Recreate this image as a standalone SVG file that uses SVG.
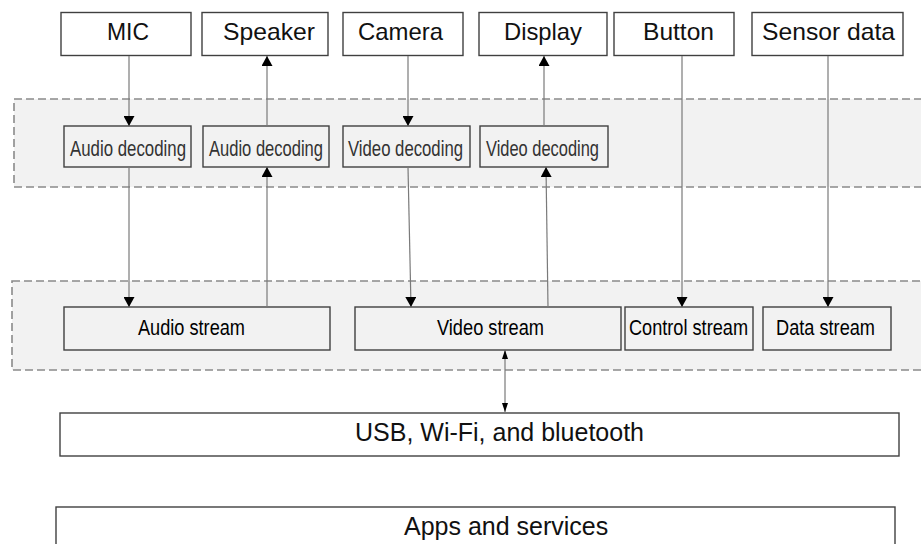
<svg xmlns="http://www.w3.org/2000/svg" width="921" height="544" viewBox="0 0 921 544">
  <style>
    .band { fill: #f2f2f2; stroke: #8a8a8a; stroke-width: 1.6; stroke-dasharray: 8 4; }
    .dev { fill: #ffffff; stroke: #404040; stroke-width: 1.4; }
    .inner { fill: #f2f2f2; stroke: #404040; stroke-width: 1.4; }
    .wide { fill: #ffffff; stroke: #404040; stroke-width: 1.4; }
    .lbl { font-family: "Liberation Sans", Arial, sans-serif; font-size: 24px; fill: #111111; text-anchor: middle; }
    .dec { font-family: "Liberation Sans", Arial, sans-serif; font-size: 22px; fill: #333333; text-anchor: middle; }
    .str { font-family: "Liberation Sans", Arial, sans-serif; font-size: 22.5px; fill: #000000; text-anchor: middle; }
    .big { font-family: "Liberation Sans", Arial, sans-serif; font-size: 25px; fill: #111111; }
    .link { stroke: #7a7a7a; stroke-width: 1.2; fill: none; }
  </style>
  <defs>
    <marker id="head" viewBox="0 0 10 11" refX="10" refY="5.5" markerWidth="10" markerHeight="11" markerUnits="userSpaceOnUse" orient="auto">
      <path d="M0,0 L10,5.5 L0,11 z" fill="#000000"/>
    </marker>
    <marker id="headSmall" viewBox="0 0 9 6" refX="9" refY="3" markerWidth="9" markerHeight="6" markerUnits="userSpaceOnUse" orient="auto-start-reverse">
      <path d="M0,0 L9,3 L0,6 z" fill="#000000"/>
    </marker>
  </defs>

  <!-- layer bands -->
  <g id="codec-layer">
    <rect class="band" x="14" y="99" width="920" height="88"/>
  </g>
  <g id="stream-layer">
    <rect class="band" x="12" y="281" width="920" height="89"/>
  </g>

  <!-- devices -->
  <g id="mic">
    <rect class="dev" x="61" y="12.5" width="130" height="43"/>
    <text class="lbl" x="128" y="40" textLength="42" lengthAdjust="spacingAndGlyphs">MIC</text>
  </g>
  <g id="speaker">
    <rect class="dev" x="202" y="12.5" width="126" height="43"/>
    <text class="lbl" x="269" y="40" textLength="92" lengthAdjust="spacingAndGlyphs">Speaker</text>
  </g>
  <g id="camera">
    <rect class="dev" x="343" y="12.5" width="120" height="43"/>
    <text class="lbl" x="400.5" y="40" textLength="85" lengthAdjust="spacingAndGlyphs">Camera</text>
  </g>
  <g id="display">
    <rect class="dev" x="479" y="12.5" width="128" height="43"/>
    <text class="lbl" x="543" y="40" textLength="78" lengthAdjust="spacingAndGlyphs">Display</text>
  </g>
  <g id="button">
    <rect class="dev" x="614" y="12.5" width="120" height="43"/>
    <text class="lbl" x="678.5" y="40" textLength="71" lengthAdjust="spacingAndGlyphs">Button</text>
  </g>
  <g id="sensor-data">
    <rect class="dev" x="752" y="12.5" width="151" height="43"/>
    <text class="lbl" x="828.5" y="40" textLength="133" lengthAdjust="spacingAndGlyphs">Sensor data</text>
  </g>

  <!-- codecs -->
  <g id="audio-decoding-in">
    <rect class="inner" x="64" y="126" width="127" height="41"/>
    <text class="dec" x="128" y="156" textLength="116" lengthAdjust="spacingAndGlyphs">Audio decoding</text>
  </g>
  <g id="audio-decoding-out">
    <rect class="inner" x="203" y="126" width="126" height="41"/>
    <text class="dec" x="266" y="156" textLength="114" lengthAdjust="spacingAndGlyphs">Audio decoding</text>
  </g>
  <g id="video-decoding-in">
    <rect class="inner" x="343" y="126" width="127" height="41"/>
    <text class="dec" x="405.5" y="156" textLength="115" lengthAdjust="spacingAndGlyphs">Video decoding</text>
  </g>
  <g id="video-decoding-out">
    <rect class="inner" x="480" y="126" width="128" height="41"/>
    <text class="dec" x="542.5" y="156" textLength="113" lengthAdjust="spacingAndGlyphs">Video decoding</text>
  </g>

  <!-- streams -->
  <g id="audio-stream">
    <rect class="inner" x="64" y="307" width="266" height="43"/>
    <text class="str" x="191.5" y="334.5" textLength="107" lengthAdjust="spacingAndGlyphs">Audio stream</text>
  </g>
  <g id="video-stream">
    <rect class="inner" x="355" y="307" width="266" height="43"/>
    <text class="str" x="490.5" y="334.5" textLength="107" lengthAdjust="spacingAndGlyphs">Video stream</text>
  </g>
  <g id="control-stream">
    <rect class="inner" x="625" y="307" width="128" height="43"/>
    <text class="str" x="688.5" y="334.5" textLength="119" lengthAdjust="spacingAndGlyphs">Control stream</text>
  </g>
  <g id="data-stream">
    <rect class="inner" x="763" y="307" width="128" height="43"/>
    <text class="str" x="825.5" y="334.5" textLength="99" lengthAdjust="spacingAndGlyphs">Data stream</text>
  </g>

  <!-- transports and applications -->
  <g id="transport">
    <rect class="wide" x="60" y="413" width="839" height="43"/>
    <text class="big" x="355" y="441">USB, Wi-Fi, and bluetooth</text>
  </g>
  <g id="apps">
    <rect class="wide" x="56" y="507" width="839" height="50"/>
    <text class="big" x="404" y="535">Apps and services</text>
  </g>

  <!-- connectors -->
  <g id="connectors">
    <line class="link" x1="129" y1="56" x2="129" y2="126" marker-end="url(#head)"/>
    <line class="link" x1="267" y1="126" x2="267" y2="56" marker-end="url(#head)"/>
    <line class="link" x1="408" y1="56" x2="408" y2="126" marker-end="url(#head)"/>
    <line class="link" x1="544" y1="126" x2="544" y2="56" marker-end="url(#head)"/>

    <line class="link" x1="129" y1="167" x2="129" y2="307" marker-end="url(#head)"/>
    <line class="link" x1="267" y1="307" x2="267" y2="167" marker-end="url(#head)"/>
    <line class="link" x1="408" y1="167" x2="411" y2="307" marker-end="url(#head)"/>
    <line class="link" x1="548" y1="307" x2="546" y2="167" marker-end="url(#head)"/>

    <line class="link" x1="682" y1="56" x2="682" y2="307" marker-end="url(#head)"/>
    <line class="link" x1="828" y1="56" x2="828" y2="307" marker-end="url(#head)"/>

    <line class="link" x1="505" y1="350" x2="505" y2="412" marker-start="url(#headSmall)" marker-end="url(#headSmall)"/>
  </g>
</svg>
